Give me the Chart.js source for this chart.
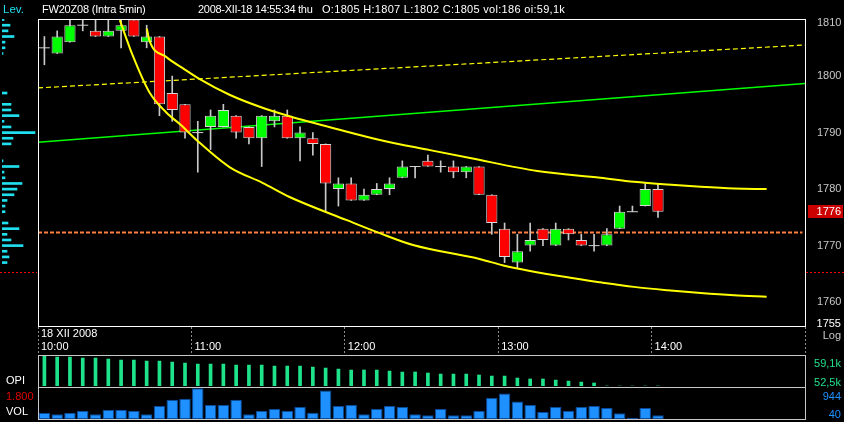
<!DOCTYPE html>
<html><head><meta charset="utf-8">
<script src="https://cdn.jsdelivr.net/npm/chart.js@4.4.0/dist/chart.umd.min.js"></script>
<style>
html,body{margin:0;padding:0;background:#000;overflow:hidden;}
body{width:844px;height:422px;position:relative;font-family:'Liberation Sans',Arial,sans-serif;font-size:11px;}
canvas{position:absolute;}
.t{position:absolute;white-space:pre;line-height:12px;height:12px;}
</style></head><body>
<canvas id="main" width="844" height="355" style="left:0px;top:0px"></canvas>
<canvas id="lev" width="38" height="355" style="left:0px;top:0px"></canvas>
<canvas id="opi" width="844" height="33" style="left:0px;top:355px"></canvas>
<canvas id="vol" width="844" height="33" style="left:0px;top:387px"></canvas>

<div class="t" style="left:3px;top:3px;color:#20e0f0;font-size:11.5px">Lev.</div>
<div class="t" style="left:42px;top:3px;color:#fff;letter-spacing:-0.2px">FW20Z08 (Intra 5min)</div>
<div class="t" style="left:198px;top:3px;color:#fff;letter-spacing:-0.3px">2008-XII-18 14:55:34 thu</div>
<div class="t" style="left:322px;top:3px;color:#fff;letter-spacing:0.3px">O:1805 H:1807 L:1802 C:1805 vol:186 oi:59,1k</div>
<div class="t" style="right:3px;top:317px;color:#fff">1755</div>
<div class="t" style="right:3px;top:329px;color:#c8c8c8">Log</div>
<div class="t" style="right:3px;top:357px;color:#20e08a">59,1k</div>
<div class="t" style="right:3px;top:376px;color:#20e08a">52,5k</div>
<div class="t" style="right:3px;top:390px;color:#1e90ff">944</div>
<div class="t" style="right:3px;top:408px;color:#1e90ff">40</div>
<div class="t" style="left:6px;top:374px;color:#fff">OPI</div>
<div class="t" style="left:6px;top:390px;color:#e00000">1.800</div>
<div class="t" style="left:6px;top:405px;color:#fff">VOL</div>

<script>
// ---- data ----
const barTimes = ['10:00','10:05','10:10','10:15','10:20','10:25','10:30','10:35','10:40','10:45','10:50','10:55',
  '11:00','11:05','11:10','11:15','11:20','11:25','11:30','11:35','11:40','11:45','11:50','11:55',
  '12:00','12:05','12:10','12:15','12:20','12:25','12:30','12:35','12:40','12:45','12:50','12:55',
  '13:00','13:05','13:10','13:15','13:20','13:25','13:30','13:35','13:40','13:45','13:50','13:55',
  '14:00'];
const open  = [1805,1804,1806,1809,1808,1807,1808,1810,1806,1807,1797,1795,1790,1791,1791,1793,1791,1789,1792,1793,1789,1789,1788,1780,1781,1778,1779,1780,1782,1784,1785,1784,1784,1783,1784,1779,1773,1767,1770,1773,1770,1773,1771,1770,1770,1773,1776,1777,1780];
const high  = [1807,1808,1810,1810,1810,1810,1810,1810,1809,1807,1800,1795,1792,1794,1795,1793,1791,1793,1794,1794,1791,1790,1788,1782,1782,1780,1781,1782,1785,1784,1786,1785,1785,1784,1784,1779,1774,1772,1774,1773,1774,1773,1772,1772,1773,1777,1777,1781,1781];
const low   = [1802,1804,1806,1808,1807,1807,1805,1807,1805,1793,1792,1789,1783,1787,1791,1789,1788,1784,1791,1789,1785,1786,1776,1777,1778,1778,1779,1779,1782,1782,1784,1783,1782,1782,1779,1772,1767,1766,1769,1770,1770,1771,1770,1769,1770,1773,1776,1777,1775];
const close = [1805,1807,1809,1809,1807,1808,1809,1807,1807,1795,1794,1790,1790,1793,1794,1790,1789,1793,1793,1789,1790,1788,1781,1781,1778,1779,1780,1781,1784,1784,1784,1784,1783,1784,1779,1774,1768,1769,1771,1771,1773,1772,1770,1770,1772,1776,1776,1780,1776];
const volume = [186,148,191,254,148,286,286,254,148,403,594,626,944,435,435,594,148,254,307,254,371,191,880,403,435,148,307,403,371,148,117,307,117,117,254,657,785,541,435,212,371,254,371,403,339,180,40,339,117];
const openInterest = [59100,58880,58880,58660,58660,58440,58220,58220,58000,58000,57780,57560,57340,57340,57340,57120,57120,57120,56900,56900,56900,56680,56460,56240,56020,56020,56020,55800,55580,55580,55360,55140,55140,55140,54920,54700,54700,54260,54040,54040,53820,53600,53380,53160,52500,52500,52500,52500,52500];
const levPrices = [1810,1809,1808,1807,1806,1805,1804,1797,1795,1794,1793,1792,1791,1790,1789,1788,1785,1784,1783,1782,1781,1780,1779,1778,1777,1776,1774,1773,1772,1771,1770,1769,1768,1767];
const levVolume = [2,8,6,12,3,3,1,5,9,9,17,2,9,33,11,9,1,17,2,3,20,15,12,5,3,3,6,17,5,9,21,5,7,5];
const hourLabels = ['10:00','11:00','12:00','13:00','14:00',''];
const dateLabel = '18 XII 2008';
const priceTicks = [1760,1770,1780,1790,1800,1810];
// [minutes after 10:00, price]
const upperBand = [[42.6,1808.4],[43.5,1806.4],[50.1,1803.4],[56.6,1801.4],[63.1,1799.5],[74.9,1796.7],[87.8,1794.4],[98.4,1792.9],[118.0,1790.5],[133.7,1788.7],[153.3,1786.9],[169.0,1785.5],[195.3,1783.2],[220.0,1782.0],[233.1,1781.3],[246.2,1780.8],[259.2,1780.4],[272.3,1780.1],[285.0,1780.0]];
const lowerBand = [[32.0,1809.9],[37.0,1803.7],[43.5,1797.2],[50.1,1793.6],[56.0,1791.3],[62.0,1788.7],[74.9,1783.9],[87.8,1781.1],[98.4,1778.6],[120.8,1774.5],[133.7,1772.2],[146.7,1770.1],[173.0,1767.6],[182.0,1766.5],[208.2,1764.3],[220.0,1763.5],[233.1,1762.7],[246.2,1762.1],[259.2,1761.6],[272.3,1761.2],[285.0,1760.95]];
const trendLine = [[0,1788.3],[300,1798.7]];
const channelLine = [[0,1797.9],[300,1805.5]];
const refLine = [[0,1772.3],[299,1772.3]];
const alertLevel = 1765.3;
const priceMin = 1755.6, priceMax = 1810.1;

// ---- build ----
const FAM = "'Liberation Sans',Arial,sans-serif";
Chart.defaults.font.family = FAM;
Chart.defaults.font.size = 11;
const toMin = t => { const p = t.split(':').map(Number); return (p[0]-10)*60 + p[1]; };
const xMid = barTimes.map(t => toMin(t) + 2.5);
const pts = arr => arr.map(p => ({x:p[0], y:p[1]}));

const framePlugin = {
  id:'frame',
  afterDraw(chart, args, opts){
    const {ctx, chartArea:a} = chart;
    ctx.save();
    ctx.strokeStyle = opts.color || '#fff';
    ctx.lineWidth = 1;
    const top = opts.full ? 0.5 : a.top + 0.5;
    const bottom = opts.full ? chart.height - 0.5 : a.bottom - 0.5;
    ctx.strokeRect(a.left + 0.5, top, a.right - a.left, bottom - top);
    ctx.restore();
  }
};
const markerPlugin = {
  id:'markers',
  afterDraw(chart){
    const {ctx, chartArea:a, scales:{y}} = chart;
    ctx.save();
    const last = close[close.length-1];
    const yy = Math.round(y.getPixelForValue(last));
    ctx.fillStyle = '#cc0000';
    ctx.fillRect(a.right + 3, yy - 7, chart.width - a.right - 4, 13);
    ctx.fillStyle = '#fff';
    ctx.font = '11px ' + FAM;
    ctx.textAlign = 'right'; ctx.textBaseline = 'middle';
    ctx.fillText(String(last), chart.width - 3, yy);
    const ya = Math.round(y.getPixelForValue(alertLevel)) + 0.5;
    ctx.strokeStyle = '#ff0000'; ctx.lineWidth = 1; ctx.setLineDash([2,2]);
    ctx.beginPath();
    ctx.moveTo(0, ya); ctx.lineTo(a.left - 1, ya);
    ctx.moveTo(a.right + 1, ya); ctx.lineTo(chart.width, ya);
    ctx.stroke();
    ctx.restore();
  }
};

const common = { responsive:false, animation:false, devicePixelRatio:1,
  plugins:{ legend:{display:false}, tooltip:{enabled:false} } };

new Chart(document.getElementById('main'), {
  type:'bar',
  data:{ datasets:[
    { type:'line', data:pts(upperBand), borderColor:'#ffff00', borderWidth:2, pointRadius:0, cubicInterpolationMode:'monotone', order:1 },
    { type:'line', data:pts(lowerBand), borderColor:'#ffff00', borderWidth:2, pointRadius:0, cubicInterpolationMode:'monotone', order:1 },
    { type:'line', data:xMid.map((x,i)=>({x, y:close[i]})).filter((p,i)=>open[i]===close[i]), showLine:false,
      pointStyle:'line', pointRadius:5.5, borderColor:'#d0d0d0', borderWidth:1, order:3 },
    { type:'bar', data:xMid.map((x,i)=>({x, y:[open[i], close[i]]})), grouped:false,
      backgroundColor: close.map((c,i)=> c>open[i] ? '#00ff00' : (c<open[i] ? '#ff0000' : 'rgba(0,0,0,0)')),
      borderColor:'#d8d8d8', borderWidth:1, borderSkipped:false, barPercentage:0.88, categoryPercentage:1, order:4 },
    { type:'bar', data:xMid.map((x,i)=>({x, y:[low[i], high[i]]})), grouped:false,
      backgroundColor:'#c8c8c8', barThickness:1, order:5 },
    { type:'line', data:pts(trendLine), borderColor:'#00ff00', borderWidth:1.5, pointRadius:0, order:6 },
    { type:'line', data:pts(channelLine), borderColor:'#ffff00', borderWidth:1.2, borderDash:[5,3], pointRadius:0, order:6 },
    { type:'line', data:pts(refLine), borderColor:'#ff8040', borderWidth:2, borderDash:[4,2], pointRadius:0, order:7 }
  ]},
  options:{ ...common,
    layout:{ padding:{ top:19, left:38, right:0, bottom:0 } },
    scales:{
      x:{ type:'linear', min:0, max:300, offset:false,
        afterBuildTicks: s => { s.ticks = hourLabels.map((_, i) => ({ value: i*60 })); },
        afterFit: s => { s.height = 28; },
        grid:{ display:true, drawOnChartArea:false, drawTicks:true, tickLength:26, tickColor:'#8c8c8c', tickBorderDash:[2,2], tickWidth:1, offset:false },
        border:{ display:false },
        ticks:{ color:'#ffffff', align:'start', labelOffset:3, padding:-25, maxRotation:0, autoSkip:false,
          font:{ size:11, lineHeight:1.15 },
          callback:(v, i) => i === 0 ? [dateLabel, hourLabels[0]] : ['', hourLabels[i]] }
      },
      y:{ type:'linear', position:'right', min:priceMin, max:priceMax, beginAtZero:false,
        afterBuildTicks: s => { s.ticks = priceTicks.map(v => ({ value:v })); },
        afterFit: s => { s.width = 39; },
        grid:{ display:false, drawTicks:false }, border:{ display:false },
        ticks:{ color:'#c8c8c8', crossAlign:'near', padding:12, font:{ size:11, lineHeight:0.6 },
          callback: v => v === priceTicks[priceTicks.length-1] ? ['', String(v)] : String(v) }
      }
    },
    plugins:{ ...common.plugins, frame:{ color:'#ffffff' } }
  },
  plugins:[framePlugin, markerPlugin]
});

new Chart(document.getElementById('lev'), {
  type:'bar',
  data:{ datasets:[{ data: levPrices.map((p,i)=>({ x:levVolume[i], y:p })), backgroundColor:'#20e0f0', barThickness:2 }] },
  options:{ ...common, indexAxis:'y',
    layout:{ padding:{ top:19, bottom:28, left:2, right:1 } },
    scales:{ x:{ type:'linear', display:false, min:0, max:35, beginAtZero:true },
             y:{ type:'linear', display:false, min:priceMin, max:priceMax, offset:false } } }
});

new Chart(document.getElementById('opi'), {
  type:'bar',
  data:{ datasets:[{ data: xMid.map((x,i)=>({ x, y:openInterest[i] })), backgroundColor:'#1fe38a', barThickness:3, minBarLength:1 }] },
  options:{ ...common,
    layout:{ padding:{ left:38, right:39, top:1, bottom:2 } },
    scales:{ x:{ type:'linear', display:false, min:0, max:300, offset:false },
             y:{ type:'linear', display:false, min:52500, max:59100, beginAtZero:false } },
    plugins:{ ...common.plugins, frame:{ color:'#c8c8c8', full:true } } },
  plugins:[framePlugin]
});

new Chart(document.getElementById('vol'), {
  type:'bar',
  data:{ datasets:[{ data: xMid.map((x,i)=>({ x, y:volume[i] })), backgroundColor:'#1e90ff', borderColor:'#0a4a9a', borderWidth:1, borderSkipped:false, barPercentage:0.9, categoryPercentage:1 }] },
  options:{ ...common,
    layout:{ padding:{ left:38, right:39, top:1, bottom:1 } },
    scales:{ x:{ type:'linear', display:false, min:0, max:300, offset:false },
             y:{ type:'linear', display:false, min:0, max:955 } },
    plugins:{ ...common.plugins, frame:{ color:'#c8c8c8', full:true } } },
  plugins:[framePlugin]
});
</script>
</body></html>
